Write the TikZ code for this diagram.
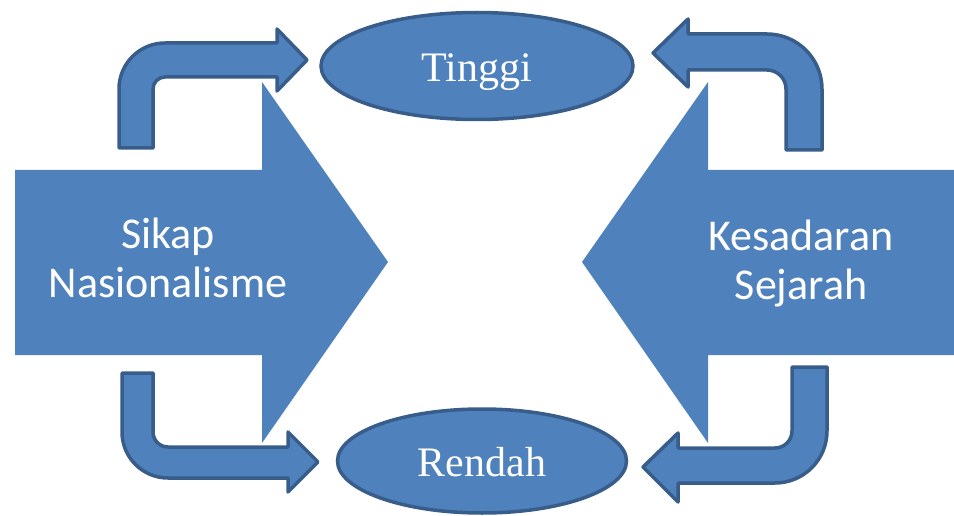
\documentclass[tikz,border=0pt]{standalone}
\usepackage{fontspec}
\setmainfont{Liberation Serif}
\newfontfamily\calibri{Carlito}
\usetikzlibrary{shapes.geometric}
\definecolor{boxblue}{HTML}{4F81BD}
\definecolor{lineblue}{HTML}{385D8A}

\begin{document}
\begin{tikzpicture}[x=1pt,y=1pt,
    bigarr/.style={fill=boxblue},
    bent/.style={draw=lineblue,fill=boxblue,line width=3.5pt,line join=round},
    level/.style={ellipse,draw=lineblue,fill=boxblue,line width=3.5pt,inner sep=0pt,
        text=white,font=\fontsize{42}{48}\selectfont,text height=31pt,text depth=0pt},
    factor/.style={text=white,align=center,font=\calibri\fontsize{44}{49}\selectfont}]
    \useasboundingbox (0,0) rectangle (954,-516);
    \fill[bigarr] (15,-170) -- (262,-170) -- (262,-82) -- (388,-262)
        -- (262,-443) -- (262,-355) -- (15,-355) -- cycle;
    \fill[bigarr] (954,-170) -- (708,-170) -- (708,-82) -- (582,-262)
        -- (708,-443) -- (708,-355) -- (954,-355) -- cycle;
    \node[factor] (sikap) at (168,-258) {Sikap\\Nasionalisme};
    \node[factor] (kesadaran) at (801,-263) {Kesadaran\\Sejarah};
    \node[level,minimum width=312pt,minimum height=107pt] (tinggi) at (477,-66) {Tinggi};
    \node[level,minimum width=289pt,minimum height=104pt] (rendah) at (482,-461) {Rendah};
    \draw[bent] (119,-148) -- (119,-89) arc (180:90:46) -- (277,-43) -- (277,-29)
        -- (307,-60) -- (277,-91) -- (277,-77) -- (165,-77) arc (90:180:12)
        -- (153,-148) -- cycle;
    \draw[bent] (822,-150) -- (822,-89) arc (0:90:55) -- (688,-34) -- (688,-19)
        -- (653,-53) -- (688,-87) -- (688,-70) -- (767,-70) arc (90:0:19)
        -- (786,-150) -- cycle;
    \draw[bent] (122,-373) -- (122,-432) arc (180:270:46) -- (288,-478) -- (288,-492)
        -- (318,-462) -- (288,-432) -- (288,-447) -- (168,-447) arc (270:180:15)
        -- (153,-373) -- cycle;
    \draw[bent] (827,-367) -- (827,-431) arc (0:-90:52) -- (678,-483) -- (678,-502)
        -- (643,-467) -- (678,-433) -- (678,-448) -- (775,-448) arc (-90:0:17)
        -- (792,-367) -- cycle;
\end{tikzpicture}
\end{document}
